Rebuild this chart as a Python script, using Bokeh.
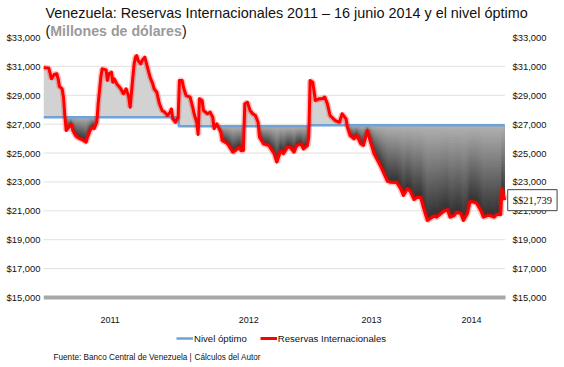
import numpy as np
from bokeh.plotting import figure
from bokeh.models import (Range1d, FixedTicker, NumeralTickFormatter, Label, Legend, LegendItem)
from bokeh.core.properties import value
from bokeh.embed import file_html
from bokeh.resources import INLINE

# ---- data (decimal year, reserves in millions of US$) ----
fecha = [2011.00, 2011.04, 2011.06, 2011.08, 2011.10, 2011.11, 2011.12, 2011.14, 2011.15, 2011.16,
         2011.17, 2011.19, 2011.21, 2011.22, 2011.24, 2011.26, 2011.29, 2011.32, 2011.33, 2011.35,
         2011.37, 2011.38, 2011.40, 2011.41, 2011.43, 2011.44, 2011.47, 2011.48, 2011.49, 2011.51,
         2011.52, 2011.53, 2011.55, 2011.58, 2011.60, 2011.62, 2011.64, 2011.65, 2011.67, 2011.68,
         2011.69, 2011.70, 2011.71, 2011.73, 2011.74, 2011.76, 2011.77, 2011.78, 2011.80, 2011.82,
         2011.83, 2011.85, 2011.87, 2011.89, 2011.91, 2011.93, 2011.95, 2011.96, 2011.97, 2011.99,
         2012.01, 2012.02, 2012.04, 2012.05, 2012.07, 2012.10, 2012.12, 2012.13, 2012.15, 2012.16,
         2012.17, 2012.19, 2012.20, 2012.23, 2012.25, 2012.27, 2012.28, 2012.30, 2012.33, 2012.34,
         2012.38, 2012.42, 2012.44, 2012.47, 2012.48, 2012.50, 2012.51, 2012.53, 2012.55, 2012.57,
         2012.59, 2012.61, 2012.62, 2012.65, 2012.69, 2012.73, 2012.75, 2012.78, 2012.80, 2012.83,
         2012.85, 2012.88, 2012.90, 2012.93, 2012.95, 2012.98, 2012.99, 2013.00, 2013.02, 2013.04,
         2013.07, 2013.09, 2013.11, 2013.13, 2013.15, 2013.19, 2013.22, 2013.24, 2013.27, 2013.28,
         2013.30, 2013.33, 2013.35, 2013.38, 2013.40, 2013.43, 2013.45, 2013.48, 2013.50, 2013.53,
         2013.55, 2013.58, 2013.60, 2013.65, 2013.68, 2013.70, 2013.73, 2013.75, 2013.78, 2013.80,
         2013.83, 2013.85, 2013.88, 2013.90, 2013.93, 2013.95, 2013.98, 2014.00, 2014.03, 2014.05,
         2014.08, 2014.10, 2014.13, 2014.15, 2014.18, 2014.20, 2014.23, 2014.25, 2014.28, 2014.30,
         2014.33, 2014.35, 2014.38, 2014.40, 2014.43, 2014.44, 2014.46]
reservas = [30920, 30880, 30140, 30440, 30490, 30140, 29610, 29450, 28870, 27600,
            26560, 26790, 26980, 26560, 26210, 26050, 25920, 25750, 26100, 26560,
            26840, 26680, 27130, 28410, 30250, 30830, 30760, 30020, 30490, 30600,
            29900, 30140, 29790, 29450, 29100, 29450, 28870, 28170, 30250, 31180,
            31640, 31750, 31410, 31180, 31410, 31640, 31290, 30940, 30250, 29790,
            29450, 29210, 28410, 27950, 27830, 27600, 27830, 28060, 27370, 27130,
            27480, 30020, 30020, 29560, 28980, 28870, 28170, 27720, 27130, 26280,
            28760, 28640, 27950, 27720, 27830, 27480, 26680, 27020, 26440, 25870,
            25640, 25060, 25180, 25400, 25180, 25180, 28410, 28520, 27950, 27720,
            27600, 27130, 26100, 25640, 25520, 24950, 24370, 25180, 24950, 25400,
            25400, 25060, 25520, 25640, 25290, 25520, 26100, 30020, 29900, 28640,
            28760, 28760, 28870, 28410, 27600, 27250, 27130, 27720, 27370, 26790,
            26210, 25990, 26210, 25640, 25520, 26560, 25870, 24950, 24600, 24070,
            23670, 23060, 22980, 22960, 22520, 22060, 22520, 22370, 21780, 21920,
            21920, 21230, 20330, 20450, 20640, 20560, 20790, 20950, 21090, 20560,
            20670, 20900, 20810, 20330, 20810, 21640, 21600, 21510, 21020, 20560,
            20670, 20670, 20560, 20740, 20740, 22540, 21739]

nivel_inicio = [2011.0, 2012.015, 2013.0, 2014.46]
nivel_valor = [27480, 26850, 26920, 26920]

y_ticks = [15000, 17000, 19000, 21000, 23000, 25000, 27000, 29000, 31000, 33000]
year_ticks = [2011.5, 2012.54, 2013.46, 2014.21]
year_labels = ["2011", "2012", "2013", "2014"]

FONT = "Liberation Sans"

# ---- layout constants (pixels of the 564x367 canvas) ----
W, H = 564, 367
FL = 43                       # frame left
PX_YEAR = 133.3               # px per year
PX_UNIT = 14.44 / 1000.0      # px per million $
X0 = 2011.0
x_end = X0 + (W - FL) / PX_YEAR
y_end = 33000 + 37 / PX_UNIT
y_start = 15000 - (H - 297) / PX_UNIT
area_end = X0 + (505 - FL) / PX_YEAR          # right edge of plotting area
rlab_x = X0 + (512 - FL) / PX_YEAR            # right tick labels
year_y = 33000 - (319 - 37) / PX_UNIT         # year labels

t = np.array(fecha)
v = np.array(reservas, dtype=float)
idx = np.searchsorted(np.array(nivel_inicio), t, side="right") - 1
idx = np.clip(idx, 0, len(nivel_valor) - 1)
lvl = np.array(nivel_valor, dtype=float)[idx]

p = figure(width=W, height=H, output_backend="svg", toolbar_location=None,
           x_range=Range1d(X0, x_end), y_range=Range1d(y_start, y_end),
           x_axis_location=None, y_axis_location="left",
           min_border_left=FL, min_border_right=0, min_border_top=0, min_border_bottom=0)
p.outline_line_color = None
p.background_fill_color = "white"
p.border_fill_color = "white"
p.xgrid.visible = False
p.ygrid.visible = False

# dotted horizontal grid over the plotting area
grid_vals = y_ticks[1:-1]
p.segment(x0=[X0] * len(grid_vals), x1=[area_end] * len(grid_vals), y0=grid_vals, y1=grid_vals,
          line_color="#c2c2c2", line_dash="1 1", line_width=1)

# fill above optimum level
p.varea(x=t, y1=lvl, y2=np.maximum(v, lvl), fill_color="#d2d2d2")
# gradient fill below optimum level: nested layers, darkest (deepest) first
N = 30
depth = np.maximum(lvl - v, 0)
c_top = np.array([0xb2, 0xb2, 0xb2])
c_bot = np.array([0x30, 0x30, 0x30])
for k in range(N, 0, -1):
    f = (k - 0.5) / N
    c = (c_top + (c_bot - c_top) * f).astype(int)
    col = "#%02x%02x%02x" % tuple(c)
    p.varea(x=t, y1=lvl, y2=lvl - depth * k / N, fill_color=col)

blue = p.step(x=nivel_inicio, y=nivel_valor, mode="after", line_color="#6fa3d8", line_width=2.5)
p.line(t, v, line_color="#ff0000", line_width=6, line_alpha=0.25)
red = p.line(t, v, line_color="#ff0000", line_width=3, line_join="round")

# base line at $15,000
p.segment(x0=[X0], x1=[area_end], y0=[y_ticks[0]], y1=[y_ticks[0]],
          line_color="#a8a8a8", line_width=4)

# left axis (native)
p.yaxis.ticker = FixedTicker(ticks=y_ticks)
p.yaxis.formatter = NumeralTickFormatter(format="$0,0")
p.yaxis.axis_line_color = None
p.yaxis.major_tick_line_color = None
p.yaxis.minor_tick_line_color = None
p.yaxis.major_tick_out = 0
p.yaxis.major_label_standoff = 3
p.yaxis.major_label_text_font = FONT
p.yaxis.major_label_text_font_size = "9.4px"
p.yaxis.major_label_text_color = "#111111"

# right tick labels
p.text(x=[rlab_x] * len(y_ticks), y=y_ticks, text=["${:,}".format(y) for y in y_ticks],
       text_font=value(FONT), text_font_size="9.4px", text_color="#111111",
       text_align="left", text_baseline="middle")

# year labels
p.text(x=year_ticks, y=[year_y] * len(year_ticks), text=year_labels,
       text_font=value(FONT), text_font_size="9px", text_color="#111111",
       text_align="center", text_baseline="middle")

# legend
legend = Legend(items=[LegendItem(label="Nivel óptimo", renderers=[blue]),
                       LegendItem(label="Reservas Internacionales", renderers=[red])],
                orientation="horizontal", location=(176 - FL, H - 344),
                glyph_width=17, glyph_height=10, label_standoff=1, spacing=13,
                padding=0, margin=0, border_line_color=None, background_fill_alpha=0,
                label_text_font=FONT, label_text_font_size="9.6px", label_text_color="#111111",
                label_height=12)
p.add_layout(legend, "center")

# titles (screen px relative to the frame's bottom-left corner)
p.add_layout(Label(x=45 - FL, y=H - 12.6, x_units="screen", y_units="screen",
                   text="Venezuela: Reservas Internacionales 2011 – 16 junio 2014 y el nivel óptimo",
                   text_font=FONT, text_font_size="14.4px", text_baseline="middle", text_color="#111111"))
p.add_layout(Label(x=45 - FL, y=H - 30.7, x_units="screen", y_units="screen", text="(",
                   text_font=FONT, text_font_size="14.2px", text_baseline="middle", text_color="#111111"))
p.add_layout(Label(x=49.7 - FL, y=H - 30.7, x_units="screen", y_units="screen", text="Millones de dólares",
                   text_font=FONT, text_font_size="14.2px", text_font_style="bold",
                   text_baseline="middle", text_color="#9a9a9a"))
p.add_layout(Label(x=181.5 - FL, y=H - 30.7, x_units="screen", y_units="screen", text=")",
                   text_font=FONT, text_font_size="14.2px", text_baseline="middle", text_color="#111111"))

# source
p.add_layout(Label(x=53 - FL, y=H - 357, x_units="screen", y_units="screen",
                   text="Fuente: Banco Central de Venezuela |",
                   text_font=FONT, text_font_size="8.2px", text_baseline="middle", text_color="#111111"))
p.add_layout(Label(x=194 - FL, y=H - 357, x_units="screen", y_units="screen",
                   text="Cálculos del Autor",
                   text_font=FONT, text_font_size="8.2px", text_baseline="middle", text_color="#111111"))

# last value box
p.add_layout(Label(x=fecha[-1], y=reservas[-1], x_offset=3,
                   text="$$" + f"{reservas[-1]:,}",
                   text_font="Liberation Serif", text_font_size="10.5px", text_baseline="middle",
                   text_align="left", text_color="#111111",
                   background_fill_color="white", border_line_color="#444444",
                   border_line_width=1, padding=5))

open("out.html", "w").write(file_html(p, INLINE))
